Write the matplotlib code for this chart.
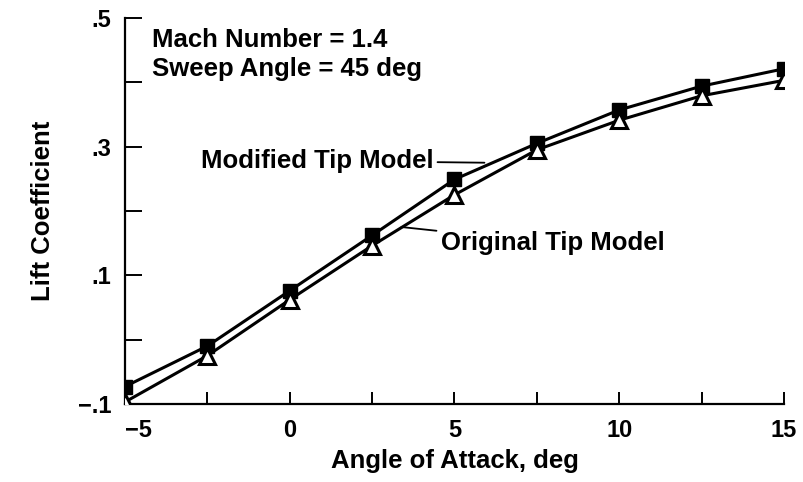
import matplotlib
matplotlib.use("Agg")
import matplotlib.pyplot as plt

plt.rcParams['font.family'] = ['Liberation Sans', 'DejaVu Sans']
plt.rcParams['font.weight'] = 'bold'

alpha = [-5, -2.5, 0, 2.5, 5, 7.5, 10, 12.5, 15]
cl_modified = [-0.073, -0.010, 0.076, 0.162, 0.249, 0.305, 0.357, 0.394, 0.421]
cl_original = [-0.097, -0.025, 0.062, 0.146, 0.225, 0.295, 0.341, 0.379, 0.403]
xticks = [-5, 0, 5, 10, 15]
xtick_labels = ['\u22125', '0', '5', '10', '15']
yticks = [-0.1, 0.1, 0.3, 0.5]
ytick_labels = ['\u2212.1', '.1', '.3', '.5']
yminor = [0.0, 0.2, 0.4]
xminor = [-2.5, 2.5, 7.5, 12.5]

fig = plt.figure(figsize=(8.04, 4.82), dpi=100)
ax = fig.add_axes([0.1555, 0.162, 0.8195, 0.8007])

ax.plot(alpha, cl_modified, color='black', lw=2.2, marker='s', ms=10.5,
        mfc='black', mec='black', zorder=3)
ax.plot(alpha, cl_original, color='black', lw=2.2, marker='^', ms=12,
        mfc='white', mec='black', mew=2.2, zorder=4)

ax.set_xlim(-5, 15)
ax.set_ylim(-0.1, 0.5)
ax.spines['top'].set_visible(False)
ax.spines['right'].set_visible(False)
for s in ['left', 'bottom']:
    ax.spines[s].set_linewidth(1.6)

ax.set_xticks(xticks)
ax.set_xticklabels(xtick_labels)
ax.set_xticks(xminor, minor=True)
ax.set_yticks(yticks)
ax.set_yticklabels(ytick_labels)
ax.set_yticks(yminor, minor=True)
ax.tick_params(axis='both', which='both', direction='in', width=1.4, labelsize=17)
ax.tick_params(axis='y', which='both', length=12, pad=10)
ax.tick_params(axis='x', which='both', length=9, pad=11)
ax.get_xticklabels()[0].set_horizontalalignment('left')

ax.set_xlabel('Angle of Attack, deg', fontsize=18.5, fontweight='bold', labelpad=5)
ax.set_ylabel('Lift Coefficient', fontsize=18.5, fontweight='bold', labelpad=16)

ax.text(0.041, 0.975, 'Mach Number = 1.4\nSweep Angle = 45 deg',
        transform=ax.transAxes, fontsize=18.5, fontweight='bold',
        va='top', ha='left', linespacing=1.3)

ax.annotate('Modified Tip Model', xy=(5.91, 0.275), xytext=(4.36, 0.278),
            fontsize=18.5, fontweight='bold', ha='right', va='center',
            arrowprops=dict(arrowstyle='-', color='black', lw=1.3,
                            shrinkA=1, shrinkB=0))
ax.annotate('Original Tip Model', xy=(3.39, 0.175), xytext=(4.58, 0.150),
            fontsize=18.5, fontweight='bold', ha='left', va='center',
            arrowprops=dict(arrowstyle='-', color='black', lw=1.3,
                            shrinkA=1, shrinkB=0))

fig.savefig('out.png', dpi=100)
